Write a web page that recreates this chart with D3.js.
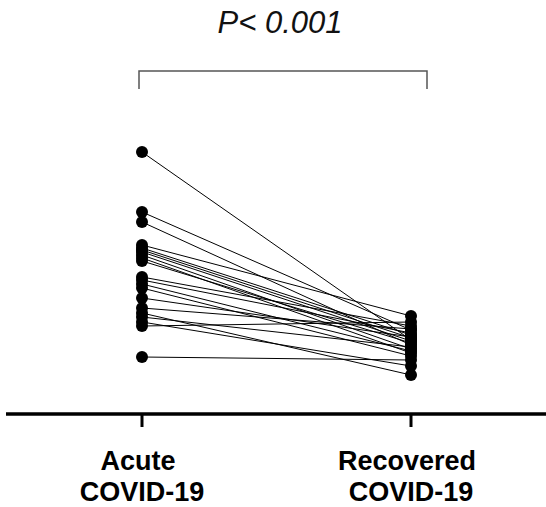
<!DOCTYPE html>
<html lang="en">
<head>
  <meta charset="utf-8">
  <title>Paired plot</title>
  <script src="https://d3js.org/d3.v7.min.js"></script>
  <style>
    body { margin: 0; background: #fff; }
    svg { display: block; }
  </style>
</head>
<body>
<script type="text/javascript">

var svg_width = 546;
var svg_height = 507;

// categories and label lines
var categories = ["Acute COVID-19", "Recovered COVID-19"];
var labelLines = [["Acute", "COVID-19"], ["Recovered", "COVID-19"]];

// paired values per subject (arbitrary units)
var acute =     [25.8, 19.8, 18.8, 16.5, 16.2, 16.0, 15.8, 15.5, 15.2, 14.9, 13.3, 13.0, 12.6, 12.2, 11.2, 10.2, 9.7, 9.3, 8.8, 8.4, 5.3];
var recovered = [7.0,  8.0,  6.5,  9.4,  7.5,  7.2,  6.9,  6.1,  5.7,  6.7,  8.4,  7.7,  5.9,  5.4,  7.3,  8.1,  3.5, 6.3, 4.4, 8.8, 5.0];

var pLabel = "P< 0.001";

var svg = d3.select("body")
  .append("svg")
  .attr("width", svg_width)
  .attr("height", svg_height);

var x = d3.scalePoint()
  .domain(categories)
  .range([142, 411]);

var y = d3.scaleLinear()
  .domain([0, 30])
  .range([410, 110]);

var axisY = 414;

// x axis line with ticks
svg.append("line")
  .attr("x1", 6).attr("x2", svg_width)
  .attr("y1", axisY).attr("y2", axisY)
  .attr("stroke", "#000")
  .attr("stroke-width", 3.5);

svg.selectAll(".tick")
  .data(categories)
  .enter()
  .append("line")
  .attr("class", "tick")
  .attr("x1", function(d) { return x(d); })
  .attr("x2", function(d) { return x(d); })
  .attr("y1", axisY)
  .attr("y2", axisY + 13)
  .attr("stroke", "#000")
  .attr("stroke-width", 3);

// category labels (two lines each)
var labels = svg.selectAll(".cat")
  .data(categories)
  .enter()
  .append("text")
  .attr("class", "cat")
  .attr("text-anchor", "middle")
  .attr("font-family", "Liberation Sans, Arial, sans-serif")
  .attr("font-weight", "bold")
  .attr("font-size", "27px")
  .attr("fill", "#000");

labels.each(function(d, i) {
  var t = d3.select(this);
  t.append("tspan")
    .attr("x", x(d) - 4)
    .attr("y", 470)
    .text(labelLines[i][0]);
  t.append("tspan")
    .attr("x", x(d))
    .attr("y", 501)
    .text(labelLines[i][1]);
});

// connecting lines
var pairs = acute.map(function(a, i) { return [a, recovered[i]]; });

svg.selectAll(".pair")
  .data(pairs)
  .enter()
  .append("line")
  .attr("class", "pair")
  .attr("x1", x(categories[0]))
  .attr("x2", x(categories[1]))
  .attr("y1", function(d) { return y(d[0]); })
  .attr("y2", function(d) { return y(d[1]); })
  .attr("stroke", "#000")
  .attr("stroke-width", 1);

// dots
svg.selectAll(".dotA")
  .data(acute)
  .enter()
  .append("circle")
  .attr("class", "dotA")
  .attr("cx", x(categories[0]))
  .attr("cy", function(d) { return y(d); })
  .attr("r", 6)
  .attr("fill", "#000");

svg.selectAll(".dotR")
  .data(recovered)
  .enter()
  .append("circle")
  .attr("class", "dotR")
  .attr("cx", x(categories[1]))
  .attr("cy", function(d) { return y(d); })
  .attr("r", 6)
  .attr("fill", "#000");

// significance bracket
var bx1 = x(categories[0]) - 3;
var bx2 = x(categories[1]) + 16;
svg.append("path")
  .attr("d", "M" + bx1 + ",89 V71 H" + bx2 + " V89")
  .attr("fill", "none")
  .attr("stroke", "#555")
  .attr("stroke-width", 1.5);

svg.append("text")
  .attr("x", 280)
  .attr("y", 33)
  .attr("text-anchor", "middle")
  .attr("font-family", "Liberation Sans, Arial, sans-serif")
  .attr("font-style", "italic")
  .attr("font-size", "31px")
  .attr("fill", "#111")
  .text(pLabel);

</script>
</body>
</html>
